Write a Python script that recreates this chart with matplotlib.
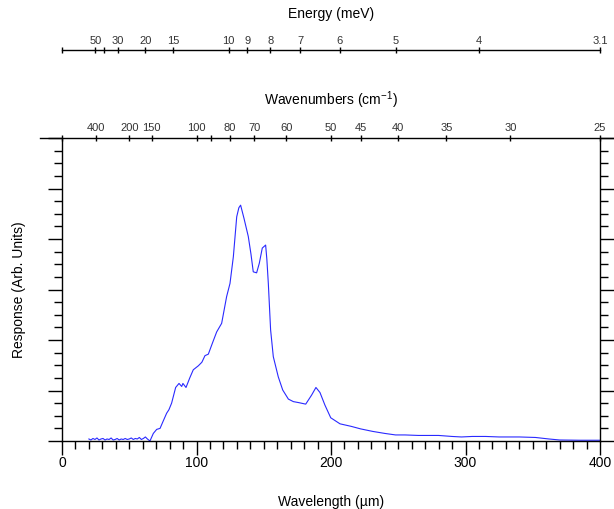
import matplotlib
matplotlib.use("Agg")
import matplotlib.pyplot as plt
from matplotlib.lines import Line2D
from matplotlib.ticker import MultipleLocator

plt.rcParams["font.family"] = ["Liberation Sans", "DejaVu Sans"]
plt.rcParams["mathtext.default"] = "regular"

# --------------------------------------------------------------------------- #
# Data
# --------------------------------------------------------------------------- #
wavelength = [20.0, 21.5, 23.0, 24.5, 26.0, 27.5, 29.0, 30.5, 32.0, 33.5,
              35.0, 36.5, 38.0, 39.5, 41.0, 42.5, 44.0, 45.5, 47.0, 48.5,
              50.0, 51.5, 53.0, 54.5, 56.0, 57.5, 59.0, 60.5, 62.0, 63.5,
              65.4, 67.9, 70.4, 72.9, 75.0, 77.8, 79.5, 81.5, 84.5, 87.0,
              89.0, 89.9, 92.2, 95.0, 97.6, 101.4, 104.0, 106.3, 108.8, 112.0,
              115.0, 118.7, 122.4, 124.9, 127.4, 129.9, 131.5, 132.8, 135.3, 138.5,
              140.5, 142.2, 144.7, 146.7, 148.9, 151.4, 152.3, 153.4, 155.1, 157.1,
              160.8, 164.1, 168.3, 172.0, 176.0, 181.2, 185.6, 188.8, 191.8, 195.5,
              199.8, 206.7, 215.0, 222.0, 231.0, 240.0, 248.0, 255.0, 265.0, 280.0,
              290.0, 297.0, 305.0, 315.0, 325.0, 340.0, 352.0, 362.0, 370.0, 385.0,
              400.0]
response = [0.04, 0.02, 0.05, 0.03, 0.06, 0.02, 0.04, 0.05, 0.02, 0.04,
            0.03, 0.06, 0.02, 0.03, 0.05, 0.02, 0.04, 0.03, 0.05, 0.03,
            0.04, 0.06, 0.03, 0.05, 0.04, 0.07, 0.03, 0.05, 0.08, 0.04,
            0.00, 0.15, 0.23, 0.25, 0.38, 0.55, 0.62, 0.75, 1.06, 1.14,
            1.08, 1.14, 1.06, 1.25, 1.41, 1.49, 1.56, 1.69, 1.72, 1.95,
            2.16, 2.33, 2.86, 3.12, 3.65, 4.44, 4.62, 4.67, 4.41, 4.05,
            3.70, 3.35, 3.33, 3.52, 3.82, 3.88, 3.60, 3.12, 2.20, 1.67,
            1.27, 1.01, 0.83, 0.78, 0.76, 0.73, 0.91, 1.06, 0.96, 0.71,
            0.46, 0.34, 0.29, 0.24, 0.19, 0.15, 0.12, 0.12, 0.11, 0.11,
            0.09, 0.08, 0.09, 0.09, 0.08, 0.08, 0.07, 0.04, 0.02, 0.015,
            0.015]

wavenumber_ticks  = [400, 200, 150, 100, 90, 80, 70, 60, 50, 45, 40, 35, 30, 25]
wavenumber_labels = ["400", "200", "150", "100", "", "80", "70", "60", "50",
                     "45", "40", "35", "30", "25"]
energy_ticks  = [50, 40, 30, 20, 15, 10, 9, 8, 7, 6, 5, 4, 1239.84 / 400]
energy_labels = ["50", "", "30", "20", "15", "10", "9", "8", "7", "6", "5", "4", "3.1"]

W, H = 614, 509
L, R, B, T = 62, 600, 441, 138   # main box in pixels (from top)

fig = plt.figure(figsize=(W / 100, H / 100), dpi=100)

# --- main axes ---
ax = fig.add_axes([L / W, (H - B) / H, (R - L) / W, (B - T) / H])
ax.plot(wavelength, response, color="#2a2aff", lw=0.8)
ax.set_xlim(0, 400)
ax.set_ylim(0, 6)
ax.xaxis.set_major_locator(MultipleLocator(100))
ax.xaxis.set_minor_locator(MultipleLocator(10))
ax.yaxis.set_major_locator(MultipleLocator(1))
ax.yaxis.set_minor_locator(MultipleLocator(0.25))
ax.tick_params(which="both", direction="out", top=False, right=True,
               labelleft=False, width=1.0, labelsize=10, pad=1)
ax.tick_params(which="major", length=10)
ax.tick_params(which="minor", length=5.5)
ax.spines["top"].set_visible(False)
for s in ["left", "right", "bottom"]:
    ax.spines[s].set_linewidth(1.0)
ax.set_xlabel("Wavelength (µm)", fontsize=10, labelpad=18)
ax.set_ylabel("Response (Arb. Units)", fontsize=10, labelpad=16)

# --- wavenumber axis on top of the box ---
wax = ax.twiny()
wax.set_xlim(0, 400)
wax.set_xticks([0] + [1e4 / k for k in wavenumber_ticks])
wax.set_xticklabels([""] + wavenumber_labels)
wax.xaxis.set_minor_locator(plt.NullLocator())
wax.tick_params(direction="inout", length=4.5, width=1.0, labelsize=8,
                labelcolor="#333333", pad=1)
for s in wax.spines.values():
    s.set_visible(False)
wax.set_xlabel(r"Wavenumbers (cm$^{-1}$)", fontsize=10, labelpad=13)
fig.add_artist(Line2D([40 / W, 1.0], [(H - T) / H] * 2, transform=fig.transFigure,
                      color="black", lw=1.0))

# --- energy axis, free standing ---
eax = fig.add_axes([L / W, (H - 50.5) / H, (R - L) / W, 0.0001])
eax.set_xlim(0, 400)
eax.patch.set_visible(False)
eax.set_yticks([])
for s in ["left", "right", "bottom"]:
    eax.spines[s].set_visible(False)
eax.spines["top"].set_linewidth(1.0)
eax.xaxis.tick_top()
eax.set_xticks([0] + [1239.84 / e for e in energy_ticks])
eax.set_xticklabels([""] + energy_labels)
eax.tick_params(direction="inout", length=5, width=1.0, labelsize=8,
                labelcolor="#333333", pad=1)
eax.xaxis.set_label_position("top")
eax.set_xlabel("Energy (meV)", fontsize=10, labelpad=13)

fig.savefig("out.png", dpi=100)
